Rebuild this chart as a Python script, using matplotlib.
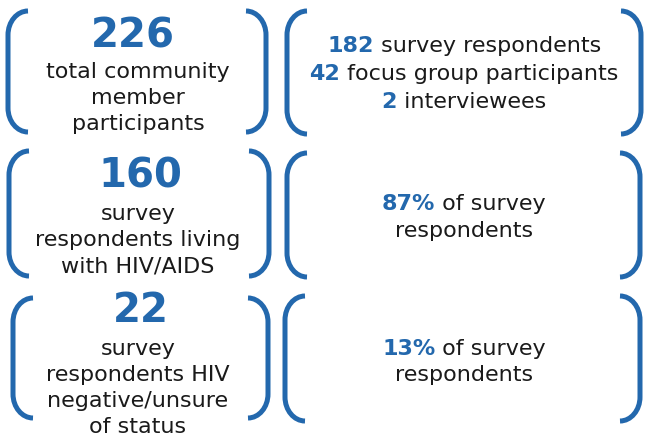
import matplotlib
matplotlib.use("Agg")
import matplotlib.pyplot as plt
from matplotlib.path import Path
from matplotlib.patches import PathPatch

# Data
big_numbers = ["226", "160", "22"]
left_labels = [
    ["total community", "member", "participants"],
    ["survey", "respondents living", "with HIV/AIDS"],
    ["survey", "respondents HIV", "negative/unsure", "of status"],
]
right_values = [["182", "42", "2"], ["87%", ""], ["13%", ""]]
right_labels = [
    ["survey respondents", "focus group participants", "interviewees"],
    ["of survey", "respondents"],
    ["of survey", "respondents"],
]

BLUE = "#2368ad"
DARK = "#1a1a1a"

# layout (pixels, origin top-left)
left_boxes = [(8, 266, 11, 132), (9, 269, 151, 276), (13, 268, 298, 418)]
right_boxes = [(287, 641, 11, 134), (287, 640, 153, 277), (285, 640, 296, 421)]
big_base = [47, 187, 322]
big_cx = [133, 140, 141]
left_base = [[78, 104, 130], [220, 246, 272], [355, 381, 407, 433]]
right_base = [[52, 80, 108], [210, 237], [355, 381]]
left_cx = 138
right_cx = 464

fig = plt.figure(figsize=(6.46, 4.37), dpi=100)
ax = fig.add_axes([0, 0, 1, 1])
ax.set_xlim(0, 646)
ax.set_ylim(437, 0)
ax.axis("off")


def bracket(xv, xtip, y0, y1, ry=24):
    k = 0.552
    dx = xtip - xv
    verts = [
        (xtip, y0),
        (xv + dx * (1 - k), y0), (xv, y0 + ry * (1 - k)), (xv, y0 + ry),
        (xv, y1 - ry),
        (xv, y1 - ry * (1 - k)), (xv + dx * (1 - k), y1), (xtip, y1),
    ]
    codes = [Path.MOVETO, Path.CURVE4, Path.CURVE4, Path.CURVE4,
             Path.LINETO, Path.CURVE4, Path.CURVE4, Path.CURVE4]
    ax.add_patch(PathPatch(Path(verts, codes), fill=False, edgecolor=BLUE,
                           lw=3.6, capstyle="butt"))


for xl, xr, y0, y1 in left_boxes + right_boxes:
    bracket(xl, xl + 20, y0, y1)
    bracket(xr, xr - 20, y0, y1)

renderer = fig.canvas.get_renderer()


def mixed_line(xc, y, bold, rest, size=16):
    if bold:
        t1 = ax.text(0, y, bold, fontsize=size, fontweight="bold", color=BLUE,
                     ha="left", va="baseline")
        t2 = ax.text(0, y, " " + rest, fontsize=size, color=DARK,
                     ha="left", va="baseline")
        w1 = t1.get_window_extent(renderer).width
        w2 = t2.get_window_extent(renderer).width
        x0 = xc - (w1 + w2) / 2
        t1.set_x(x0)
        t2.set_x(x0 + w1)
    else:
        ax.text(xc, y, rest, fontsize=size, color=DARK, ha="center", va="baseline")


for i in range(3):
    ax.text(big_cx[i], big_base[i], big_numbers[i], fontsize=29, fontweight="bold",
            color=BLUE, ha="center", va="baseline")
    for line, yb in zip(left_labels[i], left_base[i]):
        ax.text(left_cx, yb, line, fontsize=16, color=DARK, ha="center", va="baseline")
    for val, lab, yb in zip(right_values[i], right_labels[i], right_base[i]):
        mixed_line(right_cx, yb, val, lab)

fig.savefig("out.png", dpi=100)
